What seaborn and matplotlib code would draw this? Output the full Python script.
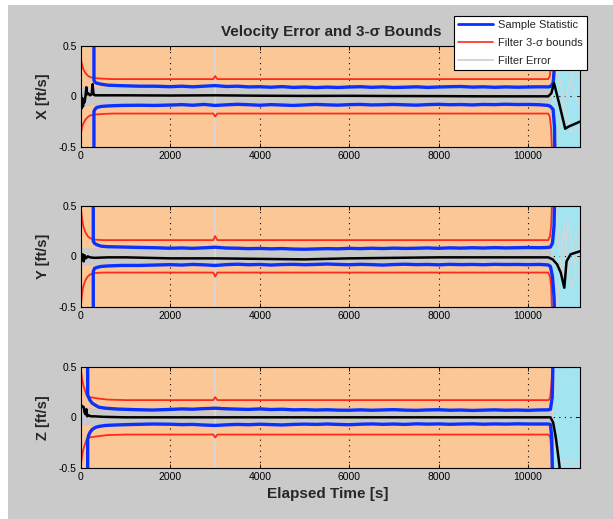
import matplotlib
matplotlib.use("Agg")
import matplotlib.pyplot as plt
from matplotlib.patches import Rectangle
from matplotlib.lines import Line2D
import seaborn as sns

# ---------------- data: time [s], velocity error [ft/s] ----------------
T_MAX = 11160
CONVERGED_END = 10525          # end of the converged span

x_ticks = [0, 2000, 4000, 6000, 8000, 10000]
y_ticks = [-0.5, 0, 0.5]
y_tick_labels = ["-0.5", "0", "0.5"]

# filter 3-sigma bound (upper half; the lower bound mirrors it)
x_sig_t = [0, 25, 50, 100, 150, 200, 300, 450, 700, 2960, 3000, 3050, 10450, 10485, 10515, 10540]
x_sig = [0.36, 0.31, 0.27, 0.23, 0.205, 0.19, 0.18, 0.175, 0.17, 0.17, 0.2, 0.17, 0.17, 0.2, 0.32, 0.6]
y_sig_t = [0, 25, 50, 100, 150, 200, 300, 500, 2960, 3000, 3050, 10450, 10490, 10515, 10540]
y_sig = [0.47, 0.37, 0.3, 0.235, 0.2, 0.18, 0.165, 0.16, 0.16, 0.2, 0.16, 0.16, 0.2, 0.3, 0.6]
z_sig_t = [0, 25, 50, 100, 130, 160, 250, 400, 600, 1000, 2960, 3000, 3050, 10460, 10495, 10525, 10550]
z_sig = [0.46, 0.38, 0.32, 0.25, 0.215, 0.2, 0.195, 0.185, 0.175, 0.17, 0.17, 0.2, 0.17, 0.17, 0.2, 0.35, 0.6]

# sample statistic (upper / lower envelopes)
ss_t = [2000, 2250, 2500, 2750, 3000, 3250, 3500, 3750, 4000, 4250, 4500, 4750, 5000, 5250,
        5500, 5750, 6000, 6250, 6500, 6750, 7000, 7250, 7500, 7750, 8000, 8250, 8500, 8750,
        9000, 9250, 9500, 9750, 10000, 10250]
x_ss_hi_t = [290, 290, 310, 350, 450, 600, 900, 1300, 1650] + ss_t + [10450, 10500, 10560, 10590, 10600]
x_ss_hi = [0.6, 0.16, 0.14, 0.13, 0.12, 0.11, 0.105, 0.1, 0.1,
           0.095, 0.1, 0.094, 0.1, 0.106, 0.097, 0.1, 0.093, 0.095, 0.09, 0.096, 0.088,
           0.092, 0.086, 0.091, 0.087, 0.092, 0.095, 0.089, 0.093, 0.087, 0.09, 0.094, 0.088,
           0.092, 0.095, 0.097, 0.091, 0.094, 0.089, 0.093, 0.09, 0.092, 0.094,
           0.093, 0.097, 0.13, 0.3, 0.6]
x_ss_lo_t = x_ss_hi_t
x_ss_lo = [-0.6, -0.15, -0.13, -0.11, -0.1, -0.095, -0.09, -0.088, -0.09,
           -0.086, -0.082, -0.088, -0.08, -0.09, -0.084, -0.079, -0.083, -0.088, -0.082, -0.086,
           -0.09, -0.085, -0.08, -0.084, -0.087, -0.082, -0.08, -0.085, -0.083, -0.08, -0.084,
           -0.087, -0.082, -0.079, -0.083, -0.081, -0.085, -0.08, -0.082, -0.078, -0.081, -0.08,
           -0.083, -0.09, -0.1, -0.13, -0.3, -0.6]

y_ss_hi_t = [275, 275, 300, 350, 450, 600, 900, 1300, 1650] + ss_t + [10450, 10500, 10545, 10580, 10595]
y_ss_hi = [0.6, 0.15, 0.13, 0.115, 0.1, 0.095, 0.092, 0.088, 0.085,
           0.08, 0.083, 0.079, 0.084, 0.09, 0.082, 0.08, 0.076, 0.078, 0.074, 0.077, 0.072,
           0.07, 0.073, 0.076, 0.074, 0.079, 0.076, 0.08, 0.077, 0.081, 0.078, 0.08, 0.083,
           0.079, 0.084, 0.081, 0.085, 0.082, 0.086, 0.083, 0.085, 0.087, 0.085,
           0.088, 0.092, 0.13, 0.3, 0.6]
y_ss_lo_t = y_ss_hi_t
y_ss_lo = [-0.6, -0.15, -0.12, -0.11, -0.1, -0.095, -0.09, -0.09, -0.086,
           -0.082, -0.086, -0.08, -0.084, -0.09, -0.082, -0.078, -0.083, -0.08, -0.086, -0.081,
           -0.079, -0.083, -0.08, -0.076, -0.08, -0.083, -0.079, -0.082, -0.086, -0.081, -0.078,
           -0.082, -0.08, -0.084, -0.079, -0.082, -0.08, -0.083, -0.079, -0.081, -0.08, -0.082,
           -0.08, -0.085, -0.1, -0.2, -0.4, -0.6]

z_ss_hi_t = [150, 150, 170, 200, 250, 320, 400, 550, 800, 1200, 1600] + ss_t + [10450, 10500, 10540, 10560]
z_ss_hi = [0.6, 0.22, 0.2, 0.17, 0.14, 0.12, 0.1, 0.09, 0.082, 0.076, 0.072,
           0.078, 0.083, 0.08, 0.086, 0.09, 0.084, 0.081, 0.078, 0.083, 0.077, 0.08, 0.074,
           0.076, 0.072, 0.075, 0.071, 0.07, 0.074, 0.07, 0.073, 0.076, 0.071, 0.069, 0.073,
           0.075, 0.07, 0.072, 0.068, 0.071, 0.074, 0.07, 0.072, 0.069, 0.073,
           0.074, 0.08, 0.2, 0.6]
z_ss_lo_t = [150, 150, 170, 200, 250, 320, 400, 550, 800, 1200, 1600] + ss_t + [10450, 10500, 10530, 10545]
z_ss_lo = [-0.6, -0.22, -0.18, -0.15, -0.12, -0.1, -0.09, -0.08, -0.075, -0.07, -0.066,
           -0.068, -0.072, -0.07, -0.076, -0.08, -0.074, -0.07, -0.073, -0.068, -0.072, -0.075,
           -0.07, -0.067, -0.07, -0.066, -0.07, -0.073, -0.068, -0.065, -0.069, -0.066, -0.07,
           -0.064, -0.067, -0.065, -0.069, -0.066, -0.064, -0.068, -0.065, -0.067, -0.064, -0.066,
           -0.066, -0.066, -0.07, -0.2, -0.6]

# mean filter error across runs
x_mean_t = [0, 15, 30, 45, 60, 80, 100, 120, 135, 160, 200, 240, 260, 275, 290, 320, 500, 1000,
            2000, 3000, 4000, 5000, 6000, 7000, 8000, 9000, 10000, 10450, 10520, 10580, 10700,
            10830, 10900, 11160]
x_mean = [0.02, -0.12, -0.02, -0.1, -0.04, -0.06, 0.0, 0.09, 0.02, 0.03, 0.01, 0.02, 0.12, 0.04,
          0.015, 0.01, 0.01, 0.01, 0.008, 0.01, 0.006, 0.004, 0.005, 0.003, 0.002, 0.0,
          0.0, 0.0, 0.03, 0.13, -0.08, -0.32, -0.3, -0.25]
y_mean_t = [0, 20, 40, 60, 80, 110, 150, 200, 300, 600, 1000, 2000, 3000, 4000, 5000, 6000, 7000,
            8000, 9000, 10000, 10450, 10550, 10650, 10730, 10810, 10860, 10950, 11160]
y_mean = [0.0, -0.03, 0.02, -0.05, 0.01, -0.02, 0.0, -0.01, -0.015, -0.01, -0.01, -0.02, -0.02,
          -0.025, -0.03, -0.02, -0.015, -0.01, -0.01, -0.01, -0.01, -0.03, -0.08, -0.16, -0.31,
          -0.05, 0.02, 0.05]
z_mean_t = [0, 30, 60, 80, 100, 120, 140, 170, 220, 300, 500, 1000, 2000, 4000, 6000, 8000, 10000,
            10500, 10560, 10620, 10680, 10720]
z_mean = [0.12, 0.11, 0.1, 0.05, 0.03, 0.08, 0.01, 0.02, 0.01, 0.01, 0.005, 0.0, 0.0, 0.0, 0.0,
          0.0, 0.0, 0.0, -0.05, -0.2, -0.4, -0.55]

# spread of individual filter-error runs while converged
x_fe_t = [0, 300, 1000, 10525]
x_fe_hi = [0.1, 0.09, 0.088, 0.088]
x_fe_lo = [-0.1, -0.085, -0.08, -0.08]
y_fe_t = [0, 300, 1000, 10515]
y_fe_hi = [0.09, 0.085, 0.078, 0.078]
y_fe_lo = [-0.09, -0.085, -0.078, -0.078]
z_fe_t = [0, 300, 1000, 10525]
z_fe_hi = [0.12, 0.085, 0.07, 0.07]
z_fe_lo = [-0.08, -0.08, -0.066, -0.066]

# single-run excursions
spike_t = [2990, 3000, 3000, 3010]
spike_v = [0.0, 0.6, -0.6, 0.0]
x_runs = [([10530, 10600, 10700, 10800, 10950, 11160], [0.05, 0.5, 0.2, -0.1, -0.35, -0.3]),
          ([10530, 10620, 10750, 10900, 11050, 11160], [-0.05, -0.5, -0.2, 0.1, 0.3, 0.15]),
          ([10540, 10650, 10800, 11000, 11160], [0.0, 0.25, 0.45, 0.1, -0.1])]
y_runs = [([10530, 10620, 10750, 10900, 11050, 11160], [0.05, 0.5, -0.2, 0.35, -0.1, 0.2]),
          ([10530, 10650, 10800, 10950, 11160], [-0.05, -0.5, 0.3, -0.3, -0.1]),
          ([10540, 10700, 10850, 11000, 11160], [0.0, -0.1, -0.2, 0.1, 0.3])]
z_runs = [([10540, 10600, 10700, 10900, 11160], [0.0, -0.3, -0.45, -0.42, -0.45]),
          ([10540, 10580, 10620, 10700], [0.0, 0.3, 0.5, 0.6]),
          ([10530, 10650, 10800, 11160], [-0.05, -0.35, -0.5, -0.48])]

# ---------------- styling ----------------
FIG_GRAY = "#cacaca"
ORANGE = "#fcc797"
CYAN = "#a2e4f0"
BLUE = "#0a32ff"
RED = "#ff2a1a"
RUN_GRAY = "#d6d6d6"
BAND_GRAY = "#c9c9c9"

sns.set_style("ticks")
plt.rcParams["font.family"] = ["Liberation Sans", "DejaVu Sans"]
plt.rcParams["axes.unicode_minus"] = False

fig = plt.figure(figsize=(6.13, 5.19), dpi=100, facecolor="white")
fig.patches.append(Rectangle((8 / 613, 0), 1 - 8 / 613, 1 - 5 / 519, transform=fig.transFigure,
                             facecolor=FIG_GRAY, edgecolor="none", zorder=-10))


def trace(ax, t, v, **kw):
    sns.lineplot(x=t, y=v, ax=ax, sort=False, estimator=None, legend=False, **kw)


panels = [
    ("X [ft/s]", 0.7168, x_sig_t, x_sig, x_ss_hi_t, x_ss_hi, x_ss_lo_t, x_ss_lo,
     x_mean_t, x_mean, x_fe_t, x_fe_hi, x_fe_lo, x_runs),
    ("Y [ft/s]", 0.4085, y_sig_t, y_sig, y_ss_hi_t, y_ss_hi, y_ss_lo_t, y_ss_lo,
     y_mean_t, y_mean, y_fe_t, y_fe_hi, y_fe_lo, y_runs),
    ("Z [ft/s]", 0.0983, z_sig_t, z_sig, z_ss_hi_t, z_ss_hi, z_ss_lo_t, z_ss_lo,
     z_mean_t, z_mean, z_fe_t, z_fe_hi, z_fe_lo, z_runs),
]

for (label, bottom, sig_t, sig, hi_t, hi, lo_t, lo, m_t, m, fe_t, fe_hi, fe_lo, runs) in panels:
    ax = fig.add_axes([0.1321, bottom, 0.814, 0.1952])
    ax.axvspan(0, CONVERGED_END, color=ORANGE, lw=0, zorder=0.2)
    ax.axvspan(CONVERGED_END, T_MAX, color=CYAN, lw=0, zorder=0.2)

    # individual filter-error runs
    ax.fill_between(fe_t, fe_lo, fe_hi, color=BAND_GRAY, lw=0, zorder=1)
    trace(ax, spike_t, spike_v, color=RUN_GRAY, lw=1.0, zorder=1)
    for rt, rv in runs:
        trace(ax, rt, rv, color=RUN_GRAY, lw=0.9, zorder=1)

    # 3-sigma bounds
    trace(ax, sig_t, sig, color=RED, lw=1.3, zorder=2)
    trace(ax, sig_t, [-s for s in sig], color=RED, lw=1.3, zorder=2)
    # sample statistic
    trace(ax, hi_t, hi, color=BLUE, lw=2.4, zorder=3)
    trace(ax, lo_t, lo, color=BLUE, lw=2.4, zorder=3)
    # mean error
    trace(ax, m_t, m, color="black", lw=1.8, zorder=4)

    ax.set_xlim(0, T_MAX)
    ax.set_ylim(-0.5, 0.5)
    ax.set_xticks(x_ticks)
    ax.set_yticks(y_ticks)
    ax.set_yticklabels(y_tick_labels)
    ax.grid(True, color="black", linestyle=(0, (1, 4)), linewidth=0.8)
    ax.tick_params(direction="in", length=3, width=0.6, top=True, right=True,
                   labelsize=7.5, pad=3, colors="black")
    for sp in ax.spines.values():
        sp.set_visible(True)
        sp.set_color("black")
        sp.set_linewidth(0.8)
        sp.set_zorder(5)
    ax.set_xlabel("")
    ax.set_ylabel(label, fontsize=10.5, fontweight="bold")
    ax.yaxis.set_label_coords(-0.062, 0.5)

fig.text(0.5397, 0.9383, "Velocity Error and 3-\u03c3 Bounds", ha="center", va="center",
         fontsize=11, fontweight="bold")
fig.text(0.534, 0.0482, "Elapsed Time [s]", ha="center", va="center",
         fontsize=11, fontweight="bold")

handles = [Line2D([], [], color=BLUE, lw=2),
           Line2D([], [], color=RED, lw=1.2),
           Line2D([], [], color=RUN_GRAY, lw=1.5)]
leg = fig.legend(handles, ["Sample Statistic", "Filter 3-\u03c3 bounds", "Filter Error"],
                 loc="upper left", bbox_to_anchor=(0.7406, 0.9692), borderaxespad=0,
                 fontsize=8, handlelength=3.2, handletextpad=0.45, labelspacing=0.72,
                 borderpad=0.35, fancybox=False, framealpha=1, edgecolor="black")
leg.get_frame().set_linewidth(0.8)

fig.savefig("out.png", dpi=100, facecolor=fig.get_facecolor())
